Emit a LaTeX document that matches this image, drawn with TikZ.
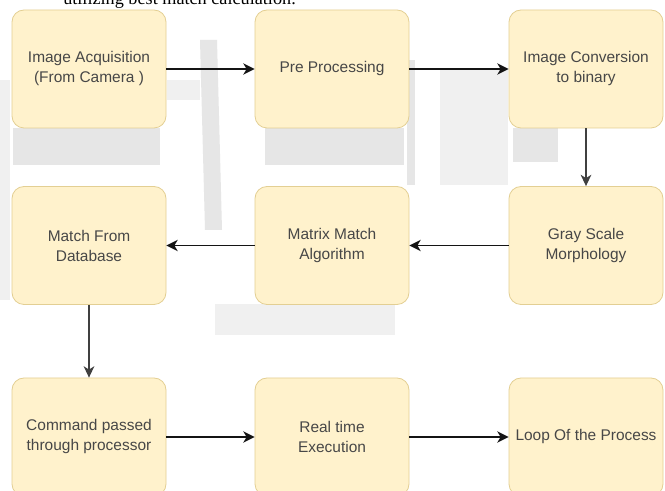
\documentclass[tikz,border=0pt]{standalone}
\usepackage{fontspec}
\setmainfont{Liberation Sans}
\newfontfamily\tnr{Liberation Serif}
\usetikzlibrary{arrows.meta}
\definecolor{boxfill}{HTML}{FFF2CC}
\definecolor{boxline}{HTML}{E3CF93}
\definecolor{boxtext}{HTML}{474747}
\definecolor{wm}{HTML}{E6E6E6}
\definecolor{wmlight}{HTML}{F0F0F0}
\tikzset{
  stepbox/.style={draw=boxline, fill=boxfill, line width=0.6pt, rounded corners=9pt,
    minimum width=115.5pt, minimum height=88.5pt, inner sep=2pt, align=center,
    text=boxtext, font=\fontsize{11.6}{15}\selectfont},
  flow/.style={-{Stealth[length=8.5pt,width=8.5pt,inset=2.5pt]}, line width=1.1pt, draw=black!92},
  downflow/.style={-{Stealth[length=8.5pt,width=8pt,inset=2.5pt]}, line width=0.9pt, draw=black!75},
}
\begin{document}
\begin{tikzpicture}[x=0.75pt,y=-0.75pt]
\useasboundingbox (0,0) rectangle (665,491);
\clip (0,0) rectangle (665,491);
\fill[white] (0,0) rectangle (665,491);
% faint watermark
\fill[wmlight] (0,80) rectangle (10,300);
\fill[wm] (13,128) rectangle (160,165);
\fill[wm] (200,40) -- (217,40) -- (222,230) -- (205,230) -- cycle;
\fill[wmlight] (167,80) rectangle (200,100);
\fill[wm] (265,128) rectangle (404,165);
\fill[wm] (407,60) rectangle (415,185);
\fill[wmlight] (440,70) rectangle (508,185);
\fill[wm] (513,128) rectangle (558,162);
\fill[wmlight] (215,304) rectangle (395,335);
% top text (cut off)
\node[anchor=base west, inner sep=0pt, font=\tnr\fontsize{13.65}{16}\selectfont] (toptext) at (63,5) {utilizing best match calculation.};
% boxes
\node[stepbox] (acq) at (89,69) {Image Acquisition\\(From Camera )};
\node[stepbox] (pre) at (332,69) {Pre Processing};
\node[stepbox] (conv) at (586,69) {Image Conversion\\to binary};
\node[stepbox] (gray) at (586,245.5) {Gray Scale\\Morphology};
\node[stepbox] (mma) at (332,245.5) {Matrix Match\\Algorithm};
\node[stepbox] (db) at (89,245.5) {Match From\\Database};
\node[stepbox] (cmd) at (89,437) {Command passed\\through processor};
\node[stepbox] (rt) at (332,437) {Real time\\Execution};
\node[stepbox] (loop) at (586,437) {Loop Of the Process};
% connectors
\draw[flow] (acq) -- (pre);
\draw[flow] (pre) -- (conv);
\draw[downflow] (conv) -- (gray);
\draw[flow] (gray) -- (mma);
\draw[flow] (mma) -- (db);
\draw[downflow] (db) -- (cmd);
\draw[flow] (cmd) -- (rt);
\draw[flow] (rt) -- (loop);
\end{tikzpicture}
\end{document}
